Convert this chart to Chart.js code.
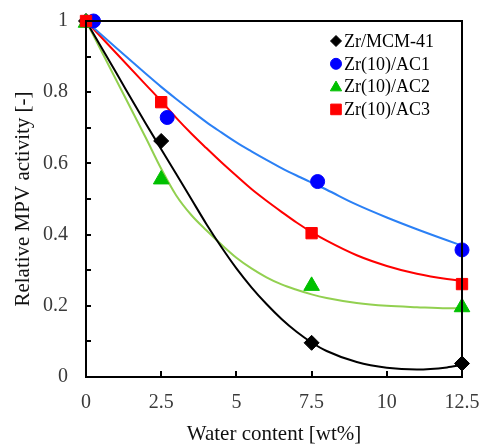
<!DOCTYPE html>
<html>
<head>
<meta charset="utf-8">
<script src="https://cdn.jsdelivr.net/npm/chart.js@4.4.1/dist/chart.umd.min.js"></script>
<style>
  html,body{margin:0;padding:0;background:#fff;}
  #wrap{width:483px;height:445px;position:relative;}
</style>
</head>
<body>
<div id="wrap"><canvas id="chart"></canvas></div>
<script>
// measured points
const blackX = [0, 2.5, 7.5, 12.5];
const blackY = [1, 0.663, 0.096, 0.038];
const blueX  = [0.25, 2.7, 7.7, 12.5];
const blueY  = [1, 0.729, 0.549, 0.357];
const greenX = [0, 2.5, 7.5, 12.5];
const greenY = [0.995, 0.555, 0.256, 0.196];
const redX   = [0, 2.5, 7.5, 12.5];
const redY   = [1, 0.772, 0.404, 0.261];

// fitted trend curves
const fitX     = [0, 1, 2, 2.5, 3, 3.5, 4, 4.5, 5, 5.5, 6, 6.5, 7, 7.5, 8, 9, 10, 11, 12, 12.5];
const blackFit = [1, 0.855, 0.71, 0.64, 0.57, 0.5, 0.43, 0.365, 0.305, 0.252, 0.205, 0.163, 0.127, 0.097, 0.073, 0.042, 0.026, 0.021, 0.027, 0.034];
const blueFit  = [1, 0.925, 0.851, 0.815, 0.781, 0.748, 0.716, 0.687, 0.659, 0.634, 0.61, 0.587, 0.566, 0.546, 0.526, 0.484, 0.448, 0.415, 0.384, 0.369];
const greenFit = [1, 0.835, 0.67, 0.585, 0.51, 0.455, 0.412, 0.372, 0.335, 0.305, 0.28, 0.26, 0.245, 0.232, 0.222, 0.208, 0.2, 0.196, 0.193, 0.193];
const redFit   = [1, 0.91, 0.82, 0.775, 0.728, 0.684, 0.643, 0.603, 0.565, 0.528, 0.495, 0.464, 0.434, 0.407, 0.383, 0.342, 0.312, 0.29, 0.275, 0.27];

const seriesLabels = ["Zr/MCM-41", "Zr(10)/AC1", "Zr(10)/AC2", "Zr(10)/AC3"];
const xTicks = [0, 2.5, 5, 7.5, 10, 12.5];

const COLORS = { black:"#000000", blue:"#0000FF", blueLine:"#2B80F5", green:"#00C000", greenLine:"#92D050", red:"#FF0000" };
const SERIF = '"Liberation Serif", "Times New Roman", serif';

const pts = (xs, ys) => xs.map((x, i) => ({ x, y: ys[i] }));

function markerSet(label, xs, ys, color, style, r, order){
  return { label, data: pts(xs, ys), showLine:false, pointStyle:style, pointRadius:r,
    backgroundColor:color, borderColor:color, pointBorderWidth:1, order, clip:false };
}
function fitSet(ys, color, order){
  return { label:"_fit", data: pts(fitX, ys), showLine:true, pointRadius:0, borderColor:color,
    borderWidth:2, cubicInterpolationMode:"monotone", fill:false, order, clip:false };
}

const LEGEND = [
  { style:"rectRot", color:COLORS.black, r:5.5 },
  { style:"circle", color:COLORS.blue, r:5.5 },
  { style:"triangle", color:COLORS.green, r:6.5 },
  { style:"rect", color:COLORS.red, r:7.5 },
];

const framePlugin = {
  id:"frame",
  afterDatasetsDraw(chart){
    const { ctx, chartArea:a, scales:{ x, y } } = chart;
    ctx.save();
    ctx.strokeStyle = "#000";
    ctx.lineWidth = 2;
    ctx.beginPath();
    y.ticks.forEach(t => { const py = Math.round(y.getPixelForValue(t.value)); ctx.moveTo(a.left, py); ctx.lineTo(a.left + 5, py); });
    x.ticks.forEach(t => { const px = Math.round(x.getPixelForValue(t.value)); ctx.moveTo(px, a.bottom); ctx.lineTo(px, a.bottom - 6); });
    ctx.stroke();
    ctx.strokeRect(a.left, a.top, a.right - a.left, a.bottom - a.top);
    ctx.restore();
  },
  afterDraw(chart){
    const { ctx, chartArea:a } = chart;
    ctx.save();
    ctx.font = "18px " + SERIF;
    ctx.textBaseline = "middle";
    seriesLabels.forEach((lab, i) => {
      const m = LEGEND[i];
      const cy = a.top + 20 + i * 22.8;
      const cx = a.right - 126;
      ctx.fillStyle = m.color; ctx.strokeStyle = m.color; ctx.lineWidth = 1;
      Chart.helpers.drawPoint(ctx, { pointStyle:m.style, radius:m.r, rotation:0, borderWidth:1 }, cx, cy + (m.style === "triangle" ? 1 : 0));
      ctx.fillStyle = "#000";
      ctx.fillText(lab, a.right - 118, cy + 1);
    });
    ctx.restore();
  }
};

new Chart(document.getElementById("chart"), {
  type:"scatter",
  data:{ datasets:[
    markerSet(seriesLabels[3], redX, redY, COLORS.red, "rect", 8, 1),
    markerSet(seriesLabels[1], blueX, blueY, COLORS.blue, "circle", 7, 2),
    markerSet(seriesLabels[2], greenX, greenY, COLORS.green, "triangle", 9, 3),
    markerSet(seriesLabels[0], blackX, blackY, COLORS.black, "rectRot", 7.5, 4),
    fitSet(blueFit, COLORS.blueLine, 10),
    fitSet(redFit, COLORS.red, 11),
    fitSet(blackFit, COLORS.black, 12),
    fitSet(greenFit, COLORS.greenLine, 13),
  ]},
  options:{
    responsive:true, maintainAspectRatio:false, animation:false,
    layout:{ padding:{ top:21, right:21, left:0, bottom:0 } },
    plugins:{ legend:{ display:false }, tooltip:{ enabled:false } },
    scales:{
      x:{ type:"linear", min:0, max:12.5,
        afterFit(s){ s.height = 68; s.paddingLeft = 0; s.paddingRight = 0; },
        afterBuildTicks(s){ s.ticks = xTicks.map(v => ({ value:v })); },
        grid:{ display:false, drawTicks:false }, border:{ display:false },
        ticks:{ padding:14, color:"#3a3a3a", font:{ family:SERIF, size:20 }, callback:v => String(v) },
        title:{ display:true, text:"Water content [wt%]", color:"#111", font:{ family:SERIF, size:21, lineHeight:1 }, padding:0 } },
      y:{ min:0, max:1,
        afterFit(s){ s.width = 86; s.paddingTop = 0; s.paddingBottom = 0; },
        grid:{ display:false, drawTicks:false }, border:{ display:false },
        ticks:{ stepSize:0.1, padding:18, color:"#3a3a3a", font:{ family:SERIF, size:20 },
          callback:v => (Math.round(v * 10) % 2 === 0 ? String(+v.toFixed(1)) : "") },
        title:{ display:true, text:"Relative MPV activity [-]", color:"#111", font:{ family:SERIF, size:21, lineHeight:1 }, padding:{ top:13, bottom:0 } } }
    }
  },
  plugins:[framePlugin]
});
</script>
</body>
</html>
